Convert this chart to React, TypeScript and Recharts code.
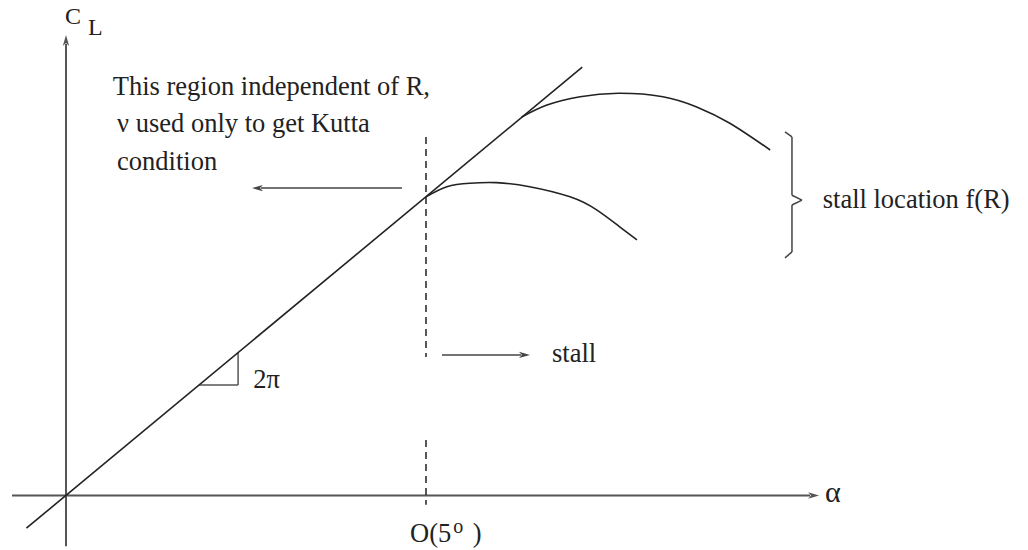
import { LineChart, Line, XAxis, YAxis, ReferenceLine, ReferenceDot } from 'recharts';

// angle of attack (deg) and lift coefficient
const liftLine = [
  { alpha: -0.55, cl: -0.06 },
  { alpha: 7.17, cl: 0.786 },
];

const highReCurve = [
  { alpha: 6.33, cl: 0.6945 },
  { alpha: 6.68, cl: 0.7165 },
  { alpha: 7.14, cl: 0.7318 },
  { alpha: 7.67, cl: 0.738 },
  { alpha: 8.29, cl: 0.7318 },
  { alpha: 8.76, cl: 0.713 },
  { alpha: 9.22, cl: 0.683 },
  { alpha: 9.78, cl: 0.634 },
];

const lowReCurve = [
  { alpha: 5.0, cl: 0.548 },
  { alpha: 5.29, cl: 0.5666 },
  { alpha: 5.61, cl: 0.573 },
  { alpha: 5.98, cl: 0.574 },
  { alpha: 6.44, cl: 0.5666 },
  { alpha: 7.0, cl: 0.548 },
  { alpha: 7.37, cl: 0.524 },
  { alpha: 7.69, cl: 0.493 },
  { alpha: 7.93, cl: 0.469 },
];

const stallAlpha = 5;

const textLines = [
  { alpha: 0.65, cl: 0.735, text: 'This region independent of R,' },
  { alpha: 0.71, cl: 0.667, text: 'ν used only to get Kutta' },
  { alpha: 0.71, cl: 0.597, text: 'condition' },
  { alpha: 6.75, cl: 0.245, text: 'stall' },
  { alpha: 2.6, cl: 0.197, text: '2π' },
  { alpha: 10.51, cl: 0.5275, text: 'stall location f(R)' },
];

const FONT = '"Liberation Serif", "Times New Roman", serif';
const INK = '#222';

const ArrowLine = (props: any) => {
  const { x1, y1, x2, y2, stroke, strokeWidth } = props;
  const ang = Math.atan2(y2 - y1, x2 - x1);
  const len = 11;
  const hw = 3.2;
  const bx = x2 - len * Math.cos(ang);
  const by = y2 - len * Math.sin(ang);
  const px = -Math.sin(ang) * hw;
  const py = Math.cos(ang) * hw;
  return (
    <g>
      <line x1={x1} y1={y1} x2={bx + 2 * Math.cos(ang)} y2={by + 2 * Math.sin(ang)} stroke={stroke} strokeWidth={strokeWidth} />
      <polygon points={`${x2},${y2} ${bx + px},${by + py} ${bx + 3 * Math.cos(ang)},${by + 3 * Math.sin(ang)} ${bx - px},${by - py}`} fill={stroke} />
    </g>
  );
};

const label = (text: string, size = 26.5) => (p: any) => (
  <text x={p.cx} y={p.cy} fontFamily={FONT} fontSize={size} fill={INK}>
    {text}
  </text>
);

export default function App() {
  return (
    <div style={{ position: 'absolute', left: 0, top: 0, background: '#fff' }}>
      <LineChart width={1028} height={550} margin={{ top: 5, right: 8, bottom: 0, left: 12 }}>
        <XAxis type="number" dataKey="alpha" hide domain={[-0.75, 13.25]} allowDataOverflow />
        <YAxis type="number" dataKey="cl" hide domain={[-0.1, 0.9]} allowDataOverflow />

        {/* axes */}
        <ReferenceLine segment={[{ x: -0.75, y: 0 }, { x: 10.46, y: 0 }]} stroke="#555" strokeWidth={2} shape={ArrowLine} />
        <ReferenceLine segment={[{ x: 0, y: -0.093 }, { x: 0, y: 0.845 }]} stroke="#555" strokeWidth={2} shape={ArrowLine} />

        {/* stall angle marker */}
        <ReferenceLine segment={[{ x: stallAlpha, y: 0.658 }, { x: stallAlpha, y: 0.254 }]} stroke={INK} strokeWidth={1.5} strokeDasharray="7 5" />
        <ReferenceLine segment={[{ x: stallAlpha, y: 0.102 }, { x: stallAlpha, y: -0.017 }]} stroke={INK} strokeWidth={1.5} strokeDasharray="7 5" />

        {/* annotation arrows */}
        <ReferenceLine segment={[{ x: 4.667, y: 0.564 }, { x: 2.583, y: 0.564 }]} stroke="#444" strokeWidth={1.5} shape={ArrowLine} />
        <ReferenceLine segment={[{ x: 5.222, y: 0.258 }, { x: 6.444, y: 0.258 }]} stroke="#444" strokeWidth={1.5} shape={ArrowLine} />

        {/* slope triangle */}
        <ReferenceLine segment={[{ x: 1.85, y: 0.2026 }, { x: 2.39, y: 0.2026 }]} stroke="#555" strokeWidth={1.5} />
        <ReferenceLine segment={[{ x: 2.39, y: 0.2026 }, { x: 2.39, y: 0.2621 }]} stroke="#555" strokeWidth={1.5} />

        {/* brace */}
        <ReferenceLine segment={[{ x: 9.986, y: 0.667 }, { x: 10.083, y: 0.658 }]} stroke="#444" strokeWidth={1.5} />
        <ReferenceLine segment={[{ x: 10.083, y: 0.658 }, { x: 10.083, y: 0.551 }]} stroke="#444" strokeWidth={1.5} />
        <ReferenceLine segment={[{ x: 10.083, y: 0.551 }, { x: 10.222, y: 0.542 }]} stroke="#444" strokeWidth={1.5} />
        <ReferenceLine segment={[{ x: 10.222, y: 0.542 }, { x: 10.083, y: 0.533 }]} stroke="#444" strokeWidth={1.5} />
        <ReferenceLine segment={[{ x: 10.083, y: 0.533 }, { x: 10.083, y: 0.447 }]} stroke="#444" strokeWidth={1.5} />
        <ReferenceLine segment={[{ x: 10.083, y: 0.447 }, { x: 9.986, y: 0.436 }]} stroke="#444" strokeWidth={1.5} />

        <Line data={liftLine} dataKey="cl" type="linear" stroke={INK} strokeWidth={1.6} dot={false} activeDot={false} isAnimationActive={false} />
        <Line data={highReCurve} dataKey="cl" type="natural" stroke={INK} strokeWidth={1.6} dot={false} activeDot={false} isAnimationActive={false} />
        <Line data={lowReCurve} dataKey="cl" type="natural" stroke={INK} strokeWidth={1.6} dot={false} activeDot={false} isAnimationActive={false} />

        {textLines.map((t) => (
          <ReferenceDot key={t.text} x={t.alpha} y={t.cl} r={0} shape={label(t.text)} />
        ))}

        <ReferenceDot
          x={-0.014}
          y={0.865}
          r={0}
          shape={(p: any) => (
            <text x={p.cx} y={p.cy} fontFamily={FONT} fontSize={24} fill={INK}>
              C
              <tspan x={p.cx + 23} dy={11}>L</tspan>
            </text>
          )}
        />
        <ReferenceDot
          x={10.54}
          y={-0.012}
          r={0}
          shape={(p: any) => (
            <text x={p.cx} y={p.cy} fontFamily={FONT} fontSize={30} fill={INK}>α</text>
          )}
        />
        <ReferenceDot
          x={4.778}
          y={-0.085}
          r={0}
          shape={(p: any) => (
            <text x={p.cx} y={p.cy} fontFamily={FONT} fontSize={26.5} fill={INK}>
              O(5
              <tspan dx={2} fontSize={20} dy={-9}>o</tspan>
              <tspan dx={3} dy={9}>{'\u00a0)'}</tspan>
            </text>
          )}
        />
      </LineChart>
    </div>
  );
}
